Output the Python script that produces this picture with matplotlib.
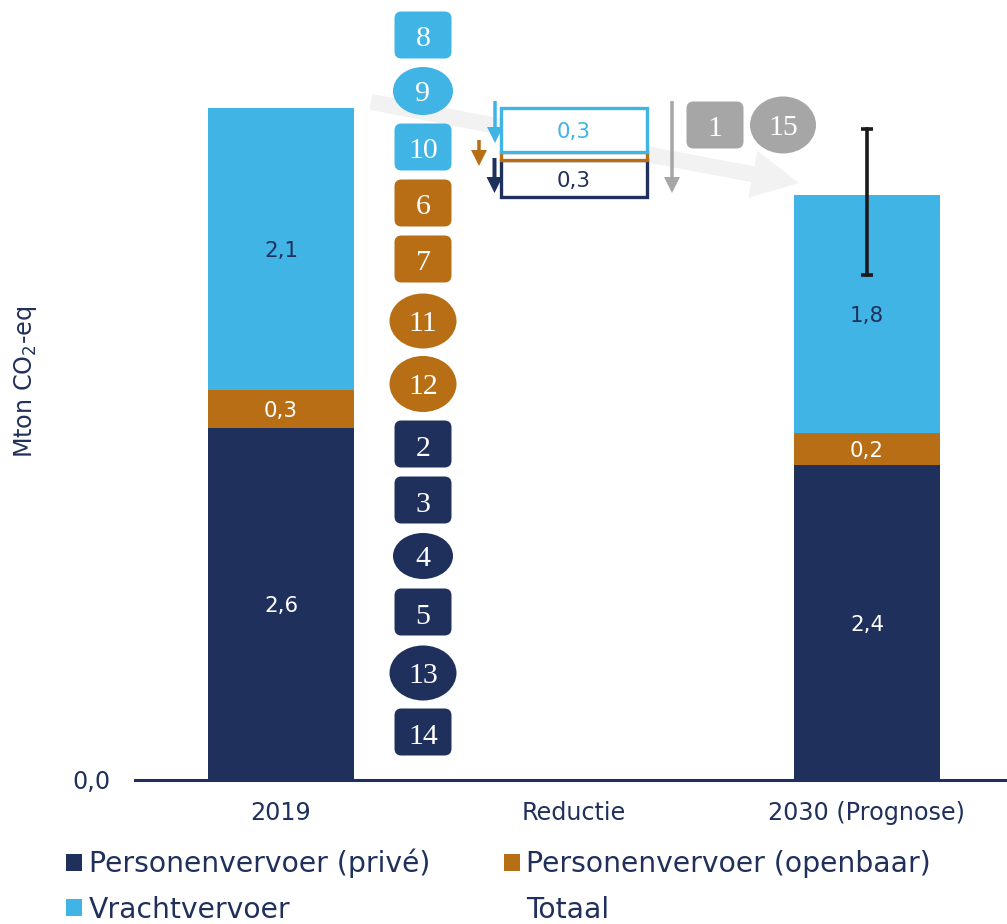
#!/usr/bin/env python3
import matplotlib
matplotlib.use("Agg")
import matplotlib.pyplot as plt
from matplotlib.lines import Line2D
from matplotlib.patches import FancyArrow, FancyBboxPatch, Ellipse

plt.rcParams['font.family'] = ['DejaVu Sans']
plt.rcParams['mathtext.default'] = 'regular'

# Data (Mton CO2-eq)
categories = ['2019', 'Reductie', '2030 (Prognose)']
series_names = ['Personenvervoer (privé)', 'Personenvervoer (openbaar)', 'Vrachtvervoer', 'Totaal']
prive = [2.61, 2.33]
openbaar = [0.28, 0.24]
vracht = [2.09, 1.76]
prive_labels = ['2,6', '2,4']
openbaar_labels = ['0,3', '0,2']
vracht_labels = ['2,1', '1,8']
reductie_vracht = 0.33
reductie_openbaar = 0.06
reductie_prive = 0.27
reductie_vracht_label = '0,3'
reductie_prive_label = '0,3'
range_low = 3.74
range_high = 4.82

square_badges = ['8', '10', '6', '7', '2', '3', '5', '14', '1']
round_badges = ['9', '11', '12', '4', '13', '15']

NAVY = '#20305C'
ORANGE = '#B86E14'
BLUE = '#41B4E6'
GRAY = '#A6A6A6'
FS_VAL = 15.4
FS_AXIS = 17.2

W, H = 1007, 924
fig = plt.figure(figsize=(W / 100, H / 100), dpi=100)

# pixel axes behind the chart (big trend arrow)
under = fig.add_axes([0, 0, 1, 1], zorder=0)
under.set_xlim(0, W)
under.set_ylim(H, 0)
under.axis('off')
under.add_patch(FancyArrow(371, 102, 428, 81, width=16, head_width=48, head_length=47,
                           length_includes_head=True, color='#F2F2F2', lw=0))

# main chart
ax = fig.add_axes([135 / W, 1 - 780 / H, (W - 135) / W, 780 / H], zorder=1)
ax.patch.set_alpha(0)
ax.set_xlim(-146 / 293, 2 + 140 / 293)
ax.set_ylim(0, 780 / 135)

xpos = [0, 2]
bottom2 = [a + b for a, b in zip(prive, openbaar)]
b_prive = ax.bar(xpos, prive, width=0.5, color=NAVY)
b_open = ax.bar(xpos, openbaar, width=0.5, bottom=prive, color=ORANGE)
b_vracht = ax.bar(xpos, vracht, width=0.5, bottom=bottom2, color=BLUE)

for i, x in enumerate(xpos):
    ax.text(x, prive[i] / 2, prive_labels[i], color='white', ha='center', va='center_baseline', fontsize=FS_VAL)
    ax.text(x, prive[i] + openbaar[i] / 2, openbaar_labels[i], color='white', ha='center', va='center_baseline', fontsize=FS_VAL)
    ax.text(x, bottom2[i] + vracht[i] / 2, vracht_labels[i], color=NAVY, ha='center', va='center_baseline', fontsize=FS_VAL)

# reduction boxes hang down from the 2019 total
top = prive[0] + openbaar[0] + vracht[0]
rb_vracht = top - reductie_vracht
rb_open = rb_vracht - reductie_openbaar
rb_prive = rb_open - reductie_prive
ax.bar(1, reductie_prive, width=0.5, bottom=rb_prive, facecolor='white', edgecolor=NAVY, lw=2.4, zorder=3)
ax.bar(1, reductie_openbaar, width=0.5, bottom=rb_open, facecolor='white', edgecolor=ORANGE, lw=2.4, zorder=3)
ax.bar(1, reductie_vracht, width=0.5, bottom=rb_vracht, facecolor='white', edgecolor=BLUE, lw=2.4, zorder=3)
ax.text(1, rb_vracht + reductie_vracht / 2, reductie_vracht_label, color=BLUE, ha='center', va='center_baseline', fontsize=FS_VAL, zorder=4)
ax.text(1, rb_prive + reductie_prive / 2, reductie_prive_label, color=NAVY, ha='center', va='center_baseline', fontsize=FS_VAL, zorder=4)

# uncertainty range on 2030
ax.plot([2, 2], [range_low, range_high], color='#1A1A1A', lw=2.6, zorder=4)
ax.plot([2, 2], [range_low, range_high], color='#1A1A1A', ls='none', marker='_', ms=9, mew=2.6, zorder=4)

for s in ['top', 'left', 'right']:
    ax.spines[s].set_visible(False)
ax.spines['bottom'].set_color(NAVY)
ax.spines['bottom'].set_linewidth(2.2)
ax.set_xticks([0, 1, 2])
ax.set_xticklabels(categories, fontsize=FS_AXIS, color=NAVY)
ax.set_yticks([0])
ax.set_yticklabels(['0,0'], fontsize=FS_AXIS, color=NAVY)
ax.tick_params(axis='both', length=0)
ax.tick_params(axis='x', pad=15)
ax.tick_params(axis='y', pad=18)

fig.text(26 / W, 1 - 382 / H, 'Mton CO$_2$-eq', rotation=90, ha='center', va='center',
         fontsize=FS_AXIS, color=NAVY)

# pixel axes in front (badges and small arrows)
over = fig.add_axes([0, 0, 1, 1], zorder=2)
over.set_xlim(0, W)
over.set_ylim(H, 0)
over.axis('off')

square_pos = {'8': (423, 35, BLUE), '10': (423, 147, BLUE), '6': (423, 203, ORANGE), '7': (423, 259, ORANGE),
              '2': (423, 444, NAVY), '3': (423, 500, NAVY), '5': (423, 612, NAVY), '14': (423, 732, NAVY),
              '1': (715, 125, GRAY)}
round_pos = {'9': (423, 91, 60, 48, BLUE), '11': (423, 321, 67, 55, ORANGE), '12': (423, 384, 67, 56, ORANGE),
             '4': (423, 556, 60, 46, NAVY), '13': (423, 673, 67, 55, NAVY), '15': (783, 125, 66, 57, GRAY)}

for name in square_badges:
    cx, cy, col = square_pos[name]
    over.add_patch(FancyBboxPatch((cx - 21.5, cy - 16.5), 43, 33, boxstyle='round,pad=7,rounding_size=7',
                                  facecolor=col, edgecolor='none'))
    over.text(cx, cy + 4.5, name, color='white', ha='center', va='center', fontsize=21.5, family='Liberation Serif')
for name in round_badges:
    cx, cy, w, h, col = round_pos[name]
    over.add_patch(Ellipse((cx, cy), w, h, facecolor=col, edgecolor='none'))
    over.text(cx, cy + 3, name, color='white', ha='center', va='center', fontsize=21.5, family='Liberation Serif')

for x, y0, y1, col, wd in [(495, 101, 143, BLUE, 3.5), (479, 140, 166, ORANGE, 3.5),
                           (494.5, 158, 193, NAVY, 4), (672, 101, 193, GRAY, 3.5)]:
    over.add_patch(FancyArrow(x, y0, 0, y1 - y0, width=wd, head_width=16, head_length=16,
                              length_includes_head=True, color=col, lw=0))

# legend
handles = [b_prive, b_vracht, b_open, Line2D([], [], ls='none')]
labels = [series_names[0], series_names[2], series_names[1], series_names[3]]
fig.legend(handles, labels, loc='lower left', bbox_to_anchor=(41 / W, -25 / H), ncol=2, frameon=False,
           fontsize=20.3, labelcolor=NAVY, handlelength=0.57, handleheight=0.57, handletextpad=0.23,
           columnspacing=2.6, labelspacing=0.62)

fig.savefig('out.png', dpi=100)
